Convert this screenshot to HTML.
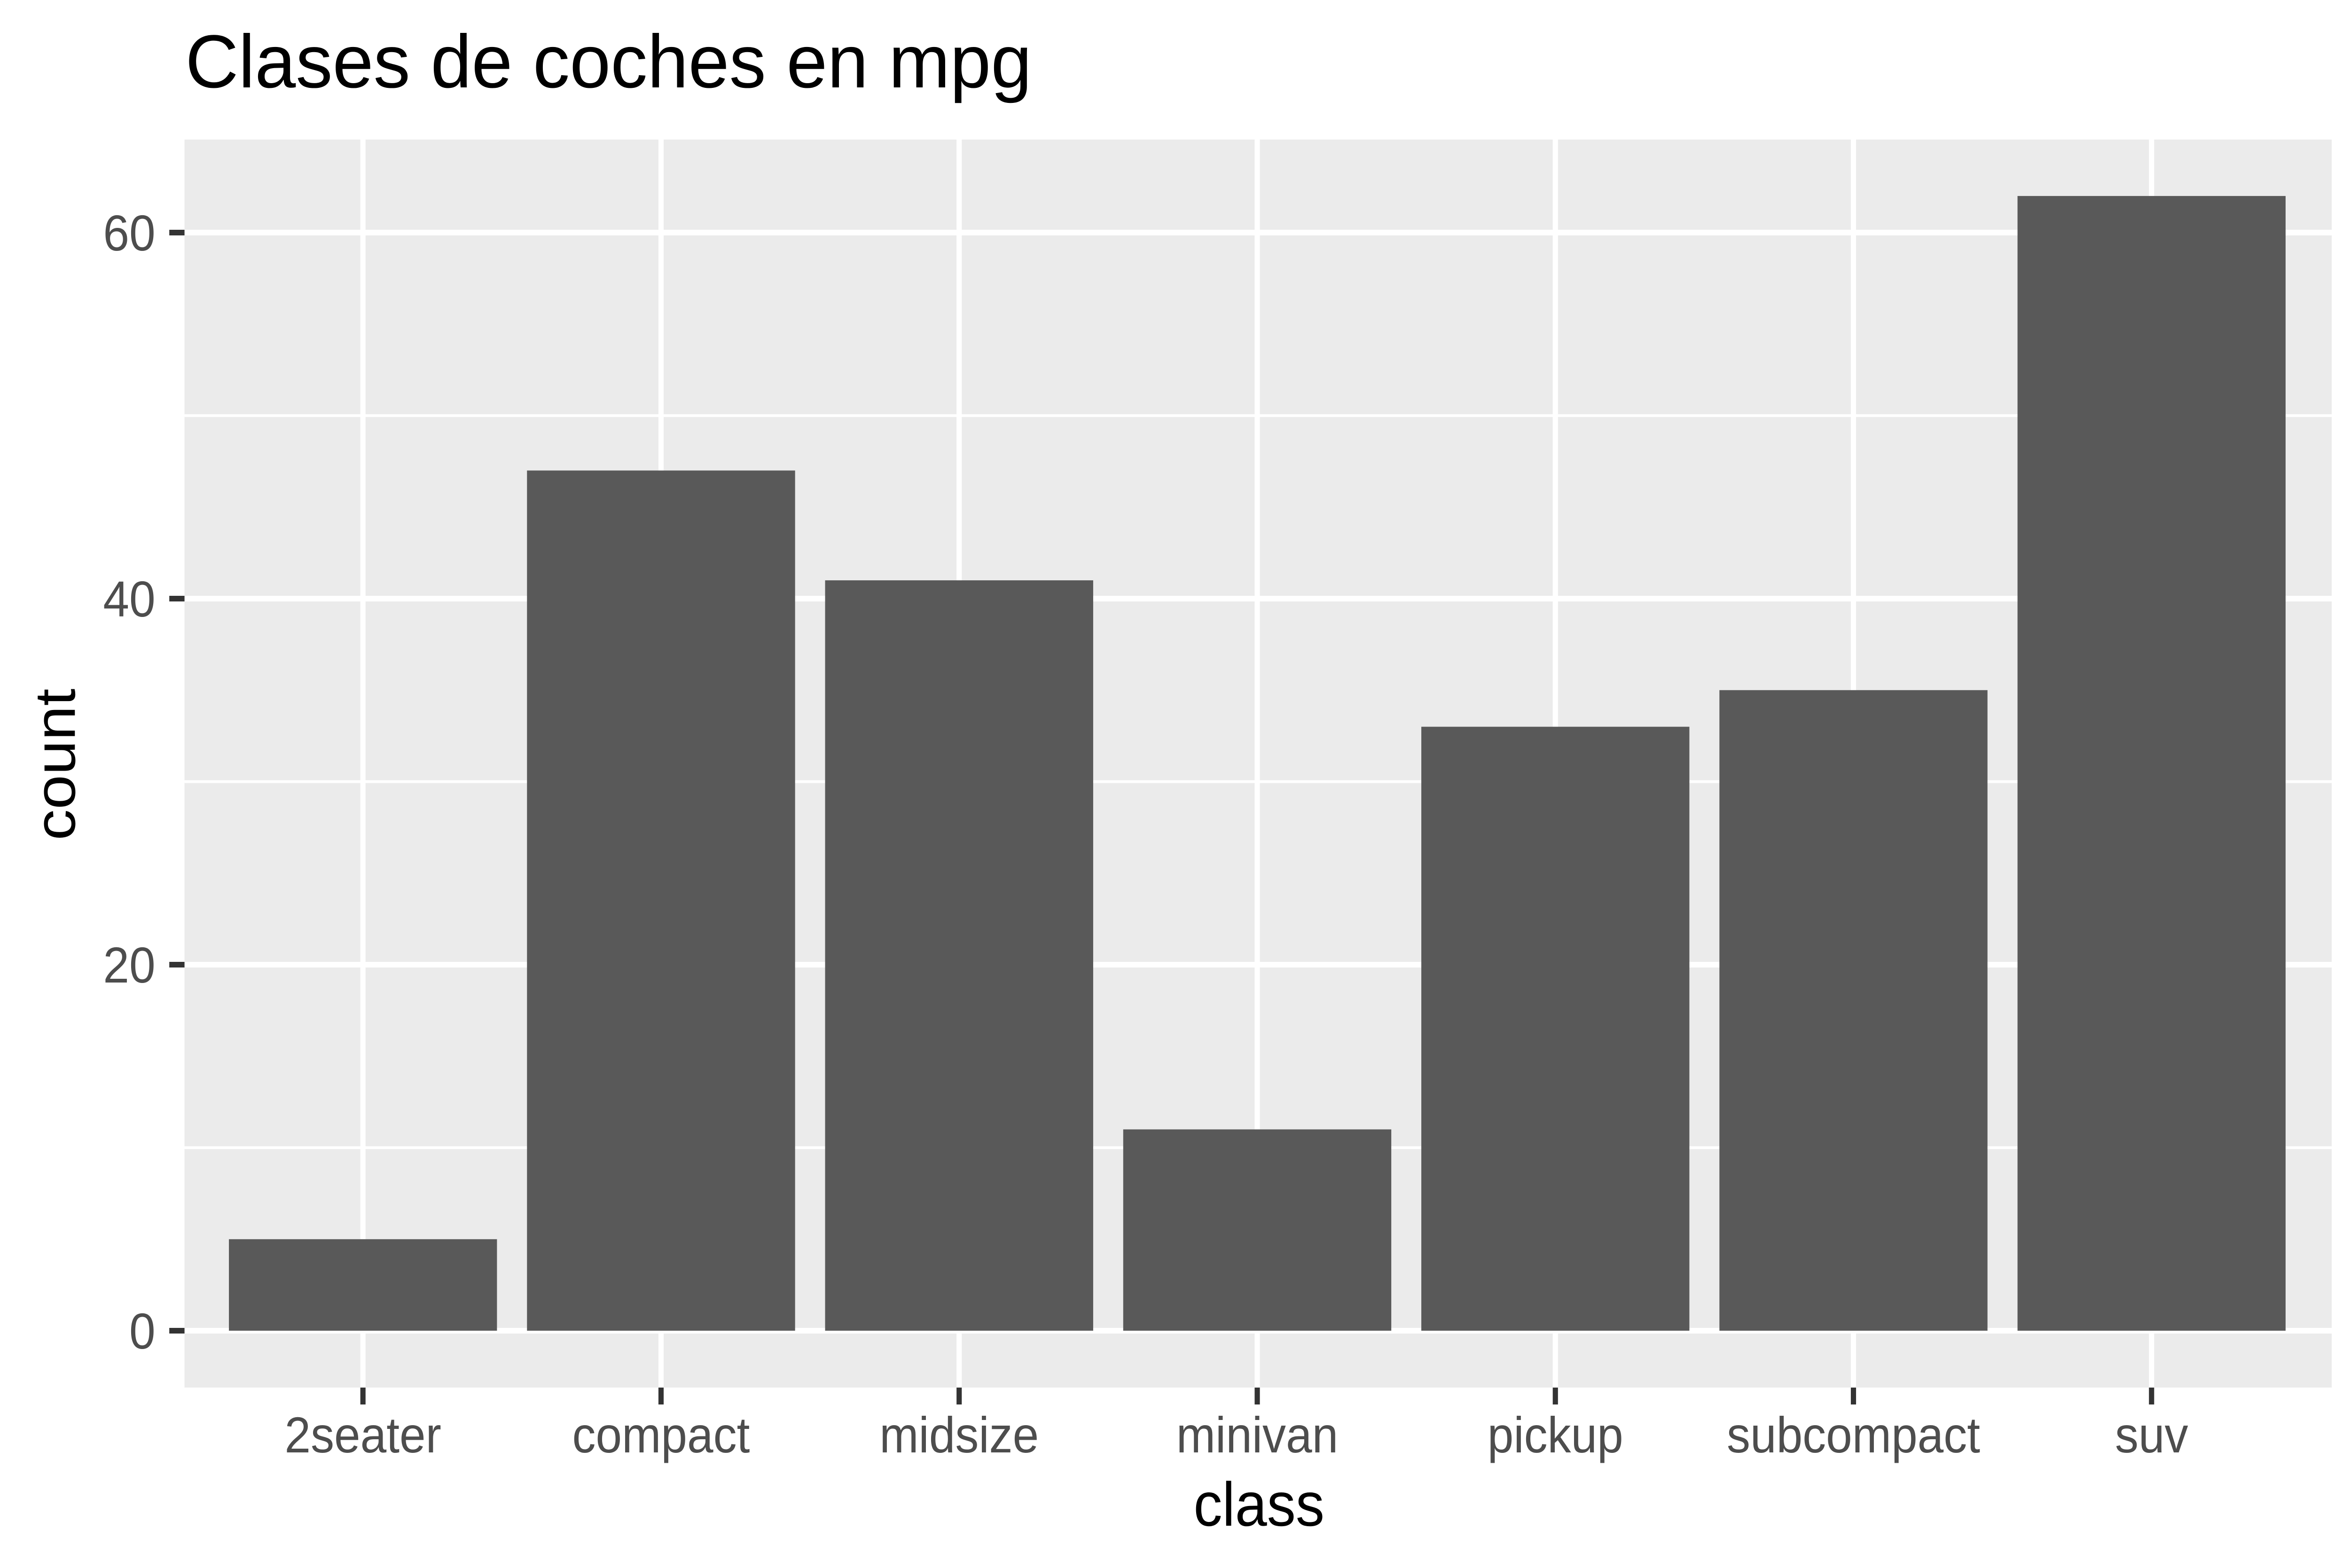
<!DOCTYPE html>
<html><head><meta charset="utf-8"><style>html,body{margin:0;padding:0;background:#fff;overflow:hidden;width:100%;height:100%}svg{display:block;position:fixed;left:0;top:0;width:100vw;height:100vh}</style></head>
<body>
<svg id="chart" viewBox="0 0 5400 3337" preserveAspectRatio="none" xmlns="http://www.w3.org/2000/svg" font-family="'Liberation Sans', 'DejaVu Sans', sans-serif">
<rect width="5400" height="3337" fill="#fff"/>
<text x="426" y="186" font-size="160" fill="#000" textLength="1945" lengthAdjust="spacingAndGlyphs">Clases de coches en mpg</text>
<rect x="424" y="297" width="4934" height="2656" fill="#EBEBEB"/>
<g id="grid"></g>
<g id="bars"></g>
<g id="axes"></g>
<text x="2893" y="3247" font-size="132" text-anchor="middle" fill="#000">class</text>
<text transform="translate(172,1627) rotate(-90)" font-size="132" text-anchor="middle" fill="#000">count</text>
</svg>
<script>
const categories = ["2seater","compact","midsize","minivan","pickup","subcompact","suv"];
const counts = [5,47,41,11,33,35,62];
const yTicks = [0,20,40,60];
const yMinor = [10,30,50];

const NS = "http://www.w3.org/2000/svg";
const y0px = 2832, unitPx = 779/20;
const y = v => y0px - v*unitPx;
const firstX = 834, stepX = 685, barW = 616;
const x = i => firstX + i*stepX;
const panelL = 424, panelR = 5358, panelT = 297, panelB = 2953;

function mk(tag, attrs, parent){
  const e = document.createElementNS(NS, tag);
  for (const k in attrs) e.setAttribute(k, attrs[k]);
  parent.appendChild(e);
  return e;
}
const grid = document.getElementById('grid');
const bars = document.getElementById('bars');
const axes = document.getElementById('axes');

yMinor.forEach(v => {
  const l = mk('line', {x1:panelL, x2:panelR, y1:y(v), y2:y(v), stroke:'#fff', 'stroke-width':6}, grid);
  
  
});
yTicks.forEach(v => {
  const l = mk('line', {x1:panelL, x2:panelR, y1:y(v), y2:y(v), stroke:'#fff', 'stroke-width':12}, grid);
  
  
  const t = mk('line', {x1:389, x2:424, y1:y(v), y2:y(v), stroke:'#333', 'stroke-width':12}, axes);
  
  
  const tx = mk('text', {x:357, y:y(v)+38, 'font-size':108, 'text-anchor':'end', fill:'#4D4D4D'}, axes);
  tx.textContent = v;
  
  
});
categories.forEach((c, i) => {
  const l = mk('line', {x1:x(i), x2:x(i), y1:panelT, y2:panelB, stroke:'#fff', 'stroke-width':12}, grid);
  
  
  const b = mk('rect', {x:x(i)-barW/2, y:y(counts[i]), width:barW, height:y(0)-y(counts[i]), fill:'#595959'}, bars);
  
  
  const t = mk('line', {x1:x(i), x2:x(i), y1:panelB, y2:panelB+36, stroke:'#333', 'stroke-width':12}, axes);
  
  
  const tx = mk('text', {x:x(i), y:3091, 'font-size':108, 'text-anchor':'middle', fill:'#4D4D4D'}, axes);
  tx.textContent = c;
  
  
});
</script>
</body></html>
